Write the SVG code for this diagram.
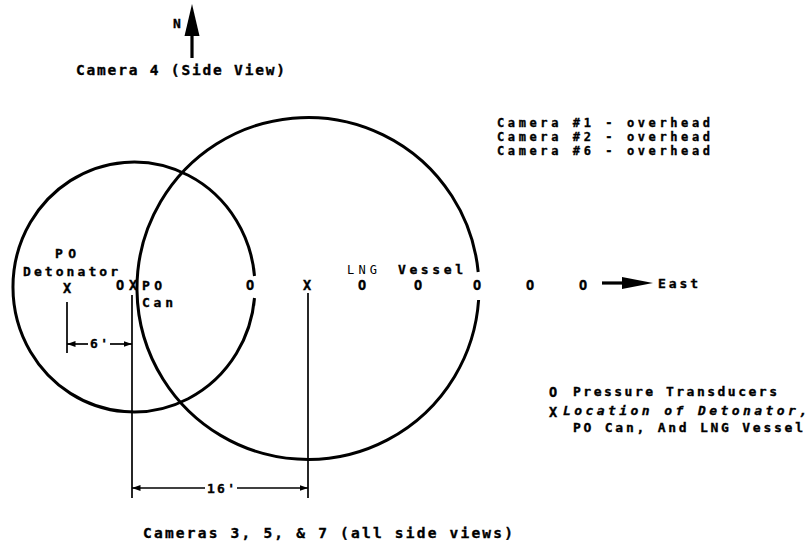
<svg xmlns="http://www.w3.org/2000/svg" width="809" height="546" viewBox="0 0 809 546">
<defs>
<style>
.t{font-family:"DejaVu Sans Mono","Liberation Mono",monospace;font-weight:bold;fill:#000;stroke:#000;stroke-width:0.35;}
.s13{font-size:14.5px;}
.s12{font-size:13px;}
.s11{font-size:12px;}
.c{fill:none;stroke:#000;stroke-width:3;}
.l{fill:none;stroke:#000;stroke-width:1.7;}
.m{font-family:"DejaVu Sans Mono","Liberation Mono",monospace;font-weight:bold;font-size:13.5px;text-anchor:middle;fill:#000;stroke:#000;stroke-width:0.4;}
</style>
<marker id="ah" viewBox="0 0 10 10" refX="10" refY="5" markerWidth="5" markerHeight="5" orient="auto-start-reverse" markerUnits="strokeWidth">
<path d="M0,1.5 L10,5 L0,8.5 Z" fill="#000"/>
</marker>
</defs>
<rect width="809" height="546" fill="#fff"/>

<g id="north">
<text class="t s12" x="173" y="28">N</text>
<path d="M192,4 L199.5,36 L184.5,36 Z" fill="#000"/>
<line x1="192" y1="30" x2="192" y2="58" stroke="#000" stroke-width="3.2"/>
<text class="t s13" x="76" y="75" textLength="209" lengthAdjust="spacing">Camera 4 (Side View)</text>
</g>

<g id="overhead-cameras">
<text class="t s11" x="497" y="127" textLength="213" lengthAdjust="spacing">Camera #1 - overhead</text>
<text class="t s11" x="497" y="141" textLength="213" lengthAdjust="spacing">Camera #2 - overhead</text>
<text class="t s11" x="497" y="155" textLength="213" lengthAdjust="spacing">Camera #6 - overhead</text>
</g>

<g id="po-circle">
<path class="c" d="M254.5,298 A121,125 0 1 1 254.5,276"/>
</g>

<g id="lng-circle">
<path class="c" d="M478.6,300 A171,171 0 1 1 478.2,272"/>
</g>

<g id="po-detonator">
<text class="t s12" x="55" y="258" textLength="21" lengthAdjust="spacing">PO</text>
<text class="t s12" x="23" y="276" textLength="95" lengthAdjust="spacing">Detonator</text>
<text class="m" x="67" y="293">X</text>
</g>

<g id="po-can">
<text class="m" x="120" y="290">O</text>
<text class="m" x="133" y="290">X</text>
<text class="t s12" x="142" y="290" textLength="20" lengthAdjust="spacing">PO</text>
<text class="t s12" x="142" y="307" textLength="31" lengthAdjust="spacing">Can</text>
</g>

<g id="lng-vessel">
<text class="m" x="250" y="290">O</text>
<text class="m" x="307" y="290">X</text>
<text class="t s11" x="347" y="274" textLength="30" lengthAdjust="spacing" style="font-weight:normal;stroke-width:0">LNG</text>
<text class="t s12" x="398" y="274" textLength="65" lengthAdjust="spacing">Vessel</text>
<text class="m" x="362" y="290">O</text>
<text class="m" x="418" y="290">O</text>
<text class="m" x="477" y="290">O</text>
<text class="m" x="530" y="290">O</text>
<text class="m" x="583" y="290">O</text>
</g>

<g id="east">
<line x1="602" y1="283" x2="630" y2="283" stroke="#000" stroke-width="3.2"/>
<path d="M622,277 L653,283 L622,289 Z" fill="#000"/>
<text class="t s12" x="658" y="288" textLength="40" lengthAdjust="spacing">East</text>
</g>

<g id="legend">
<text class="m" x="553" y="397">O</text>
<text class="t s12" x="573" y="396" textLength="204" lengthAdjust="spacing">Pressure Transducers</text>
<text class="m" x="553" y="417">X</text>
<text class="t s12" x="563" y="415" textLength="244" lengthAdjust="spacing" style="font-style:italic">Location of Detonator,</text>
<text class="t s12" x="573" y="432" textLength="230" lengthAdjust="spacing">PO Can, And LNG Vessel</text>
</g>

<g id="side-cameras">
<text class="t s13" x="143" y="538" textLength="370" lengthAdjust="spacing">Cameras 3, 5, &amp; 7 (all side views)</text>
</g>

<g id="connectors">
<line class="l" x1="67" y1="302" x2="67" y2="353"/>
<line class="l" x1="132" y1="295" x2="132" y2="498"/>
<line class="l" x1="308" y1="293" x2="308" y2="498"/>
<line class="l" x1="88" y1="344" x2="67" y2="344" marker-end="url(#ah)"/>
<line class="l" x1="110" y1="344" x2="132" y2="344" marker-end="url(#ah)"/>
<text class="t s12" x="90" y="348" textLength="18" lengthAdjust="spacing">6'</text>
<line class="l" x1="205" y1="488" x2="132" y2="488" marker-end="url(#ah)"/>
<line class="l" x1="237" y1="488" x2="308" y2="488" marker-end="url(#ah)"/>
<text class="t s12" x="207" y="493" textLength="28" lengthAdjust="spacing">16'</text>
</g>
</svg>
